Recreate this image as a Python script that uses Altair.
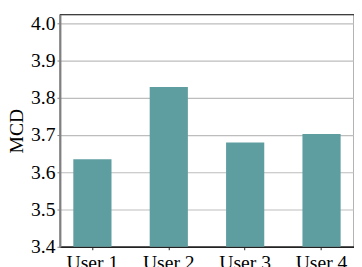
import altair as alt
import pandas as pd

users = ["User 1", "User 2", "User 3", "User 4"]
mcd = [3.635, 3.829, 3.680, 3.703]
y_ticks = [3.4, 3.5, 3.6, 3.7, 3.8, 3.9, 4.0]

df = pd.DataFrame({"user": users, "mcd": mcd})

font = "Liberation Serif"

chart = alt.Chart(df).mark_bar(color="#5F9EA0", clip=True).encode(
    x=alt.X("user:N", sort=users, title=None,
            scale=alt.Scale(paddingInner=0.5, paddingOuter=0.175),
            axis=alt.Axis(labelAngle=0, labelFont=font, labelFontSize=20,
                          labelColor="black", labelPadding=3,
                          domainColor="#222222", domainWidth=1.5,
                          tickColor="#222222", tickSize=3, grid=False)),
    y=alt.Y("mcd:Q", title="MCD",
            scale=alt.Scale(domain=[3.4, 4.024], zero=False, nice=False),
            axis=alt.Axis(values=y_ticks, format=".1f", labelFont=font,
                          labelFontSize=20, labelColor="black", labelPadding=2,
                          titleFont=font, titleFontSize=20, titleFontWeight="normal",
                          titleColor="black", titlePadding=4,
                          domainColor="#808080", domainWidth=2,
                          tickColor="#808080", tickSize=3,
                          grid=True, gridColor="#bdbdbd", gridWidth=1.2)),
).properties(
    width=300, height=237,
    autosize=alt.AutoSizeParams(type="none"),
    padding={"left": 53, "top": 4, "right": 0, "bottom": 18},
).configure_view(stroke="black", strokeWidth=1.2)

chart.save("out.html", embed_options={"renderer": "svg", "actions": False})
